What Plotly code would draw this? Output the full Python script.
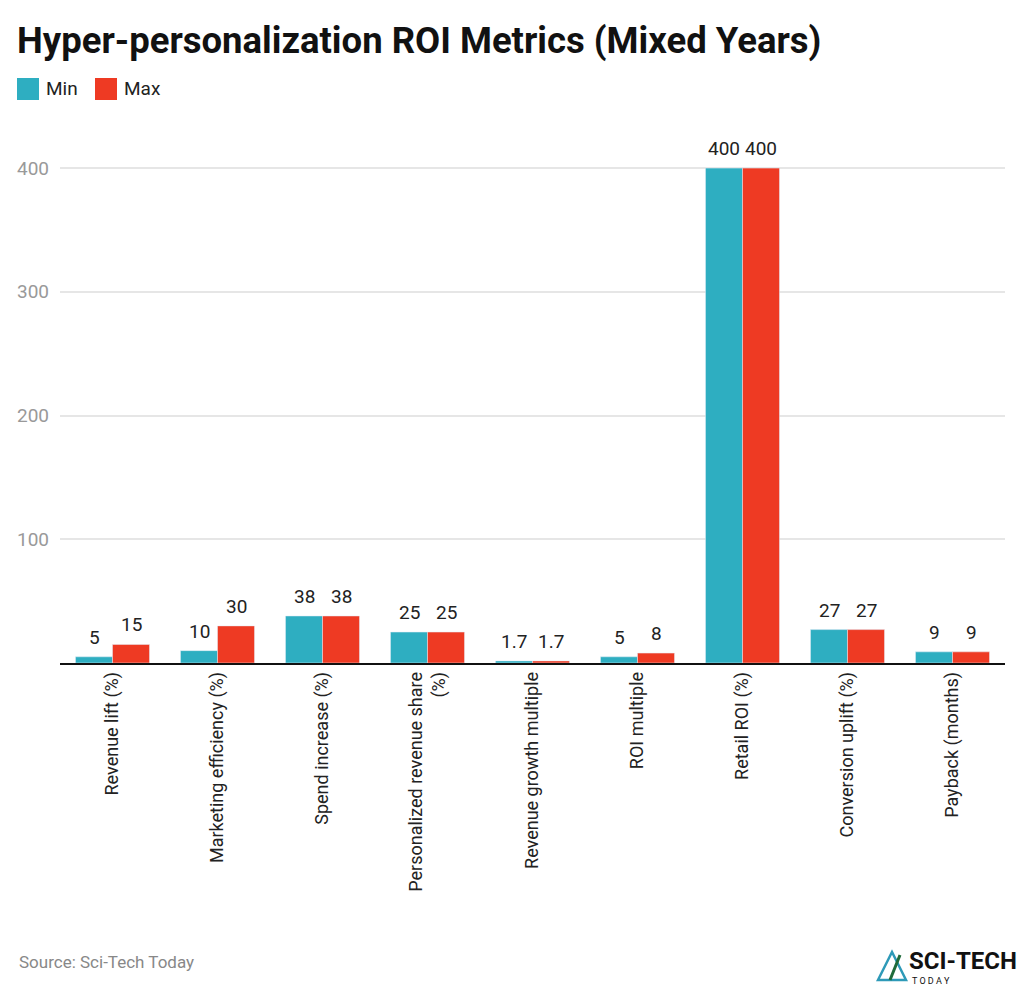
import plotly.graph_objects as go

categories = ["Revenue lift (%)", "Marketing efficiency (%)", "Spend increase (%)",
              "Personalized revenue share<br>(%)", "Revenue growth multiple", "ROI multiple",
              "Retail ROI (%)", "Conversion uplift (%)", "Payback (months)"]
min_vals = [5, 10, 38, 25, 1.7, 5, 400, 27, 9]
max_vals = [15, 30, 38, 25, 1.7, 8, 400, 27, 9]
min_text = ["5", "10", "38", "25", "1.7", "5", "400", "27", "9"]
max_text = ["15", "30", "38", "25", "1.7", "8", "400", "27", "9"]

MIN_C = "#2EAEC1"
MAX_C = "#EE3A23"
W, H = 1023, 991
L, R, T, B = 60, 18, 131, 328
PW, PH = W - L - R, H - T - B
BAR_W = 37  # approx pixel width of one bar

def px_x(x):
    return (x - L) / PW

def px_y(y):
    return (H - B - y) / PH

fig = go.Figure()
fig.add_trace(go.Bar(x=categories, y=min_vals, name="Min", marker_color=MIN_C,
                     showlegend=False))
fig.add_trace(go.Bar(x=categories, y=max_vals, name="Max", marker_color=MAX_C,
                     showlegend=False))

# value labels above bars
for cat, v, t in zip(categories, min_vals, min_text):
    fig.add_annotation(x=cat, y=v, text=t, showarrow=False, xshift=-BAR_W / 2,
                       yanchor="bottom", yshift=6, font=dict(size=19, color="#222"))
for cat, v, t in zip(categories, max_vals, max_text):
    fig.add_annotation(x=cat, y=v, text=t, showarrow=False, xshift=BAR_W / 2,
                       yanchor="bottom", yshift=6, font=dict(size=19, color="#222"))

fig.update_layout(
    width=W, height=H,
    margin=dict(l=L, r=R, t=T, b=B),
    paper_bgcolor="white", plot_bgcolor="white",
    font=dict(family="Roboto", size=16, color="#222"),
    barmode="group", bargap=0.295, bargroupgap=0,
    title=dict(text="<b>Hyper-personalization ROI Metrics (Mixed Years)</b>",
               font=dict(family="Roboto", size=36.5, color="#111"),
               x=17 / W, xref="container", xanchor="left",
               y=1 - 40 / H, yref="container", yanchor="middle"),
    xaxis=dict(tickangle=-90, showline=True, linecolor="#111", linewidth=1.5,
               ticks="", tickfont=dict(size=18, color="#222"), showgrid=False),
    yaxis=dict(range=[0, 430], tickvals=[100, 200, 300, 400], showgrid=True,
               gridcolor="#e6e6e6", gridwidth=1.5, zeroline=False,
               tickfont=dict(size=19, color="#999"), ticklabelstandoff=10),
)

# Legend (manual squares)
for x0, color, label in [(17, MIN_C, "Min"), (95, MAX_C, "Max")]:
    fig.add_shape(type="rect", xref="paper", yref="paper",
                  x0=px_x(x0), x1=px_x(x0 + 22), y0=px_y(100), y1=px_y(78),
                  fillcolor=color, line=dict(width=0))
    fig.add_annotation(xref="paper", yref="paper", x=px_x(x0 + 27), y=px_y(89),
                       text=label, showarrow=False, xanchor="left", yanchor="middle",
                       font=dict(size=19, color="#222"))

# Source
fig.add_annotation(xref="paper", yref="paper", x=px_x(17), y=px_y(962),
                   text="Source: Sci-Tech Today", showarrow=False,
                   xanchor="left", yanchor="middle",
                   font=dict(size=17, color="#888"))

# Logo
fig.add_shape(type="path", xref="paper", yref="paper",
              path=f"M {px_x(878)} {px_y(980)} L {px_x(892)} {px_y(952)} L {px_x(906)} {px_y(980)} Z",
              fillcolor="rgba(0,0,0,0)", line=dict(color="#2E9AB8", width=2.5))
fig.add_shape(type="line", xref="paper", yref="paper",
              x0=px_x(890), y0=px_y(980), x1=px_x(900), y1=px_y(955),
              line=dict(color="#1F6B3A", width=3))
fig.add_annotation(xref="paper", yref="paper", x=px_x(907), y=px_y(961),
                   text="<b>SCI-TECH</b>", showarrow=False, xanchor="left", yanchor="middle",
                   font=dict(family="Roboto", size=24, color="#111"))
fig.add_annotation(xref="paper", yref="paper", x=px_x(910), y=px_y(981),
                   text="T O D A Y", showarrow=False, xanchor="left", yanchor="middle",
                   font=dict(family="Roboto", size=9, color="#111"))

fig.write_html("out.html")
